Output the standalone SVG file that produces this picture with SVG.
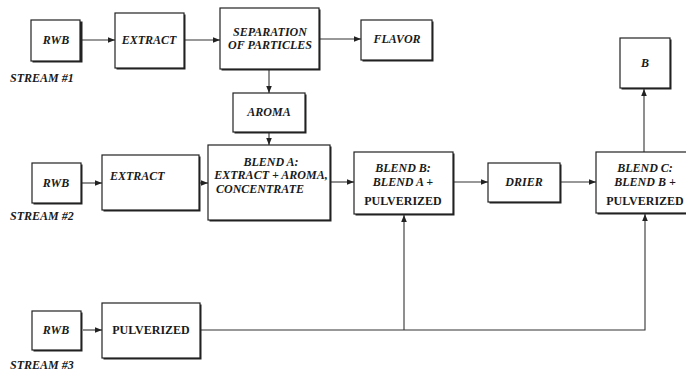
<svg xmlns="http://www.w3.org/2000/svg" width="686" height="372" viewBox="0 0 686 372">
<style>
.box{fill:#fff;stroke:#222;stroke-width:1.2}
.sh{fill:#222}
.t{font-family:"Liberation Serif",serif;font-weight:bold;font-style:italic;font-size:12px;fill:#1a1a1a;text-anchor:middle}
.u{font-family:"Liberation Serif",serif;font-weight:bold;font-size:12px;fill:#1a1a1a;text-anchor:middle}
.s{font-family:"Liberation Serif",serif;font-weight:bold;font-style:italic;font-size:12px;fill:#1a1a1a}
.ln{fill:none;stroke:#333;stroke-width:1.1}
</style>
<defs>
<marker id="ah" viewBox="0 0 10 10" refX="10" refY="5" markerWidth="7" markerHeight="7" markerUnits="userSpaceOnUse" orient="auto">
<path d="M0,1 L10,5 L0,9 Z" fill="#222"/>
</marker>
</defs>
<rect width="686" height="372" fill="#fff"/>
<g id="connectors">
<line class="ln" x1="81" y1="40" x2="115" y2="40" marker-end="url(#ah)"/>
<line class="ln" x1="184" y1="40" x2="220" y2="40" marker-end="url(#ah)"/>
<line class="ln" x1="319" y1="39" x2="361" y2="39" marker-end="url(#ah)"/>
<line class="ln" x1="269" y1="70" x2="269" y2="93" marker-end="url(#ah)"/>
<line class="ln" x1="269" y1="133" x2="269" y2="145" marker-end="url(#ah)"/>
<line class="ln" x1="82" y1="183" x2="102" y2="183" marker-end="url(#ah)"/>
<line class="ln" x1="200" y1="183" x2="208" y2="183" marker-end="url(#ah)"/>
<line class="ln" x1="331" y1="182" x2="354" y2="182" marker-end="url(#ah)"/>
<line class="ln" x1="454" y1="182" x2="488" y2="182" marker-end="url(#ah)"/>
<line class="ln" x1="561" y1="182" x2="596" y2="182" marker-end="url(#ah)"/>
<line class="ln" x1="644" y1="152" x2="644" y2="89" marker-end="url(#ah)"/>
<line class="ln" x1="83" y1="330" x2="102" y2="330" marker-end="url(#ah)"/>
<polyline class="ln" points="201,330 645,330 645,214" marker-end="url(#ah)"/>
<line class="ln" x1="404" y1="330" x2="404" y2="215" marker-end="url(#ah)"/>
</g>
<g id="rwb1"><rect class="sh" x="32.5" y="21.5" width="50" height="41"/><rect class="box" x="31" y="20" width="49" height="41"/><text class="t" x="56" y="44">RWB</text></g>
<text class="s" x="10" y="82">STREAM #1</text>
<g id="extract1"><rect class="sh" x="116.5" y="14.5" width="69" height="55"/><rect class="box" x="115" y="13" width="69" height="55"/><text class="t" x="149" y="44">EXTRACT</text></g>
<g id="separation"><rect class="sh" x="221.5" y="9.5" width="99" height="61"/><rect class="box" x="220" y="8" width="99" height="61"/><text class="t" x="270" y="36">SEPARATION</text><text class="t" x="270" y="49">OF PARTICLES</text></g>
<g id="flavor"><rect class="sh" x="362.5" y="21.5" width="71" height="40"/><rect class="box" x="361" y="20" width="71" height="40"/><text class="t" x="397" y="43">FLAVOR</text></g>
<g id="aroma"><rect class="sh" x="234.5" y="94.5" width="72" height="39"/><rect class="box" x="233" y="93" width="72" height="39"/><text class="t" x="269" y="116">AROMA</text></g>
<g id="b"><rect class="sh" x="621.5" y="39.5" width="50" height="50"/><rect class="box" x="620" y="38" width="50" height="50"/><text class="t" x="645" y="67">B</text></g>
<g id="rwb2"><rect class="sh" x="33.5" y="164.5" width="49" height="40"/><rect class="box" x="32" y="163" width="49" height="40"/><text class="t" x="56" y="187">RWB</text></g>
<text class="s" x="10" y="220">STREAM #2</text>
<g id="extract2"><rect class="sh" x="103.5" y="156.5" width="97" height="55"/><rect class="box" x="102" y="155" width="97" height="55"/><text class="s" x="110" y="180">EXTRACT</text></g>
<g id="blendA"><rect class="sh" x="209.5" y="146.5" width="122" height="75"/><rect class="box" x="208" y="145" width="122" height="75"/><text class="t" x="271" y="166">BLEND A:</text><text class="t" x="271" y="179">EXTRACT + AROMA,</text><text class="s" x="216" y="193">CONCENTRATE</text></g>
<g id="blendB"><rect class="sh" x="355.5" y="153.5" width="99" height="62"/><rect class="box" x="354" y="152" width="99" height="62"/><text class="t" x="403" y="172">BLEND B:</text><text class="t" x="403" y="186">BLEND A +</text><text class="u" x="403" y="205">PULVERIZED</text></g>
<g id="drier"><rect class="sh" x="489.5" y="164.5" width="72" height="39"/><rect class="box" x="488" y="163" width="72" height="39"/><text class="t" x="524" y="186">DRIER</text></g>
<g id="blendC"><rect class="sh" x="597.5" y="153.5" width="100" height="61"/><rect class="box" x="596" y="152" width="100" height="61"/><text class="t" x="645" y="172">BLEND C:</text><text class="t" x="645" y="186">BLEND B +</text><text class="u" x="645" y="205">PULVERIZED</text></g>
<g id="rwb3"><rect class="sh" x="33.5" y="312.5" width="49" height="39"/><rect class="box" x="32" y="311" width="49" height="39"/><text class="t" x="56" y="334">RWB</text></g>
<text class="s" x="10" y="369">STREAM #3</text>
<g id="pulverized"><rect class="sh" x="103.5" y="304.5" width="98" height="55"/><rect class="box" x="102" y="303" width="98" height="55"/><text class="u" x="151" y="334">PULVERIZED</text></g>
</svg>
